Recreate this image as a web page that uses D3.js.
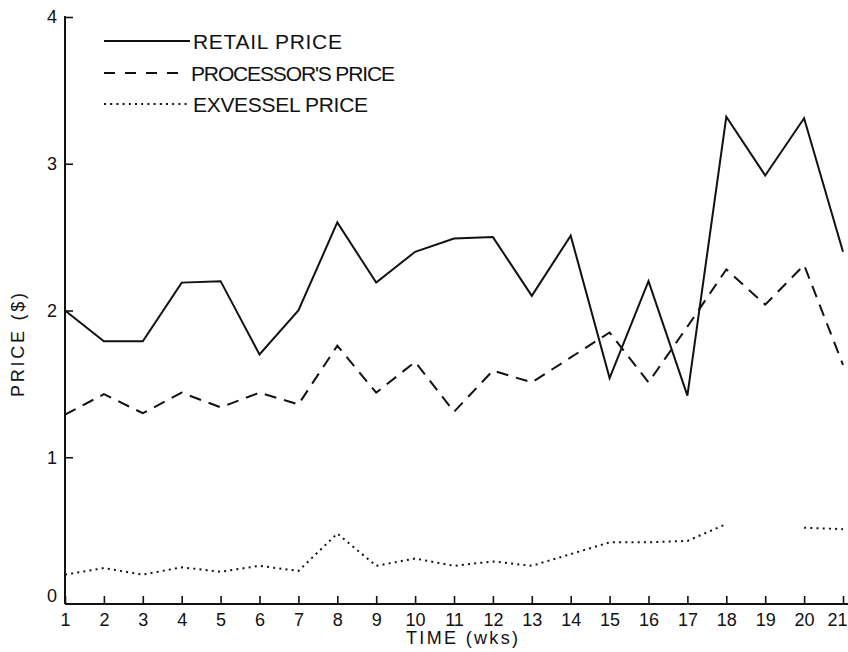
<!DOCTYPE html>
<html>
<head>
<meta charset="utf-8">
<script src="https://cdn.jsdelivr.net/npm/d3@7"></script>
<style>
  html, body { margin: 0; padding: 0; background: #fff; }
  svg { display: block; }
  text { font-family: "Liberation Sans", Arial, sans-serif; fill: #111; }
</style>
</head>
<body>
<svg id="chart" width="848" height="652"></svg>
<script>
// Weekly prices ($)
const weeks = d3.range(1, 22);
const retailPrice    = [2.00, 1.79, 1.79, 2.19, 2.20, 1.70, 2.00, 2.60, 2.19, 2.40, 2.49,
                        2.50, 2.10, 2.51, 1.54, 2.20, 1.42, 3.32, 2.92, 3.31, 2.40];
const processorPrice = [1.29, 1.43, 1.30, 1.44, 1.34, 1.44, 1.36, 1.76, 1.44, 1.65, 1.31,
                        1.59, 1.51, 1.68, 1.85, 1.51, 1.89, 2.28, 2.04, 2.31, 1.63];
const exvesselPrice  = [0.20, 0.245, 0.20, 0.25, 0.22, 0.26, 0.225, 0.48, 0.26, 0.31, 0.26,
                        0.29, 0.26, 0.34, 0.42, 0.42, 0.43, 0.545, null, 0.52, 0.51];
const yTicks = [0, 1, 2, 3, 4];

const seriesNames = ["RETAIL PRICE", "PROCESSOR'S PRICE", "EXVESSEL PRICE"];
const seriesValues = [retailPrice, processorPrice, exvesselPrice];
const seriesDash = [null, "12,8", "2,4.2"];
const legendWidths = [149, 204, 175];

const svg = d3.select("#chart");
const ink = "#111";

const x = d3.scaleLinear().domain([1, 21]).range([65, 843]);
const y = d3.scaleLinear().domain([0, 4]).range([604, 17]);

// x axis with upward ticks
const xAxis = svg.append("g")
  .attr("transform", `translate(0,${y(0)})`)
  .call(d3.axisBottom(x).tickValues(weeks).tickFormat(d3.format("d"))
        .tickSizeInner(-8).tickSizeOuter(0).tickPadding(9));
xAxis.select(".domain").attr("d", `M${x(1)},0H848`).attr("stroke", ink).attr("stroke-width", 2);
xAxis.selectAll(".tick line").attr("stroke", ink).attr("stroke-width", 1.6);
xAxis.selectAll(".tick text").attr("font-size", 18).attr("fill", ink);
// last label sits against the right edge
xAxis.selectAll(".tick").filter(d => d === 21).select("text")
  .attr("text-anchor", "end").attr("x", 847 - x(21));

// y axis with inward ticks
const yAxis = svg.append("g")
  .attr("transform", `translate(${x(1)},0)`)
  .call(d3.axisLeft(y).tickValues(yTicks).tickFormat(d3.format("d"))
        .tickSizeInner(-8).tickSizeOuter(0).tickPadding(8));
yAxis.select(".domain").attr("d", `M0,${y(4) - 1}V${y(0)}`).attr("stroke", ink).attr("stroke-width", 2);
yAxis.selectAll(".tick line").attr("stroke", ink).attr("stroke-width", 1.6);
yAxis.selectAll(".tick text").attr("font-size", 18).attr("fill", ink);
yAxis.selectAll(".tick").filter(d => d === 0).select("line").remove();
yAxis.selectAll(".tick").filter(d => d === 0).select("text").attr("dy", "-0.15em");

// axis titles
svg.append("text")
  .attr("transform", `translate(24,345) rotate(-90)`)
  .attr("text-anchor", "middle")
  .attr("font-size", 18)
  .attr("textLength", 104)
  .text("PRICE  ($)");

svg.append("text")
  .attr("x", 462).attr("y", 644)
  .attr("text-anchor", "middle")
  .attr("font-size", 18)
  .attr("textLength", 112)
  .text("TIME  (wks)");

// price lines
const line = d3.line()
  .defined(d => d.v !== null)
  .x(d => x(d.w))
  .y(d => y(d.v));

seriesValues.forEach((vals, i) => {
  const pts = weeks.map((w, j) => ({ w, v: vals[j] }));
  svg.append("path")
    .datum(pts)
    .attr("fill", "none")
    .attr("stroke", ink)
    .attr("stroke-width", 2)
    .attr("stroke-linejoin", "miter")
    .attr("stroke-dasharray", seriesDash[i])
    .attr("d", line);
});

// legend
const legendY = [41, 73, 104];
const legendLineEnd = [190, 182, 188];
const legend = svg.append("g");
seriesNames.forEach((name, i) => {
  legend.append("line")
    .attr("x1", 104).attr("x2", legendLineEnd[i])
    .attr("y1", legendY[i]).attr("y2", legendY[i])
    .attr("stroke", ink).attr("stroke-width", 2)
    .attr("stroke-dasharray", i === 1 ? "11,10" : seriesDash[i]);
  legend.append("text")
    .attr("x", i === 1 ? 191 : 193)
    .attr("y", legendY[i] + 7.5)
    .attr("font-size", 21)
    .attr("textLength", legendWidths[i])
    .text(name);
});
</script>
</body>
</html>
